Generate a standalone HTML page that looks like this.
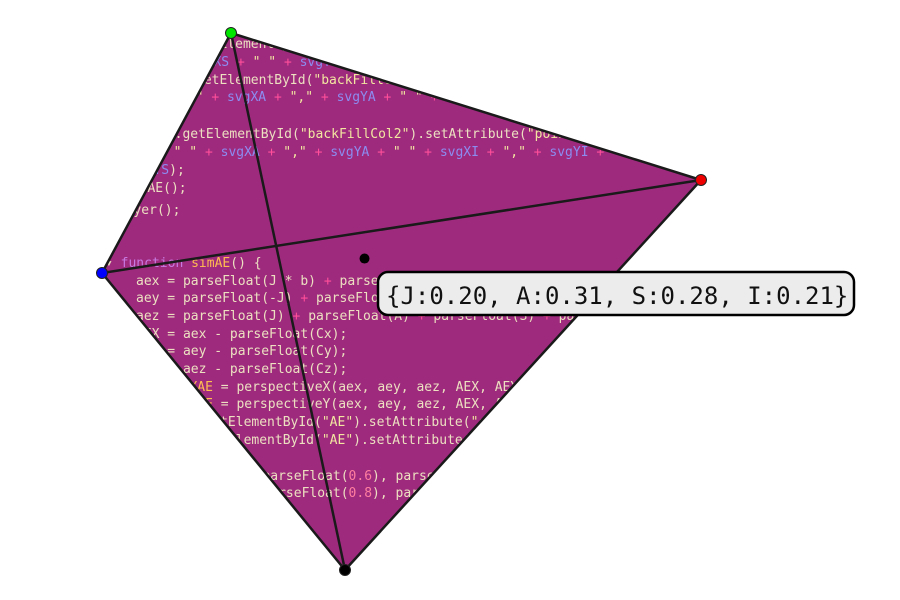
<!DOCTYPE html>
<html><head><meta charset="utf-8"><style>
html,body{margin:0;padding:0;background:#fff;width:900px;height:600px;overflow:hidden}
svg{display:block}
.c{font-family:"DejaVu Sans Mono","Liberation Mono",monospace;font-size:13px;fill:#ece0c0}
.p{fill:#ff4f9a}.v{fill:#8c8cf0}.s{fill:#f2e6a0}.k{fill:#c77ae0}.f{fill:#ffbe50}.n{fill:#ff7f9f}
</style></head><body>
<svg id="chart" width="900" height="600">
<defs><clipPath id="hull"><polygon id="hullPoly"/></clipPath></defs>
<polygon id="fill" fill="#9e2a7e"/>
<g clip-path="url(#hull)">
<text class="c" x="196" y="48">getElementById</text>
<text class="c" x="190" y="66"><tspan class="v">svgXS</tspan> <tspan class="p">+</tspan> <tspan class="s">" "</tspan> <tspan class="p">+</tspan> <tspan class="v">svgYS</tspan>);</text>
<text class="c" x="196" y="84">getElementById(<tspan class="s">"backFillCol1"</tspan>)</text>
<text class="c" x="180" y="101"><tspan class="s">" "</tspan> <tspan class="p">+</tspan> <tspan class="v">svgXA</tspan> <tspan class="p">+</tspan> <tspan class="s">","</tspan> <tspan class="p">+</tspan> <tspan class="v">svgYA</tspan> <tspan class="p">+</tspan> <tspan class="s">" "</tspan> <tspan class="p">+</tspan> <tspan class="v">svgXI</tspan></text>
<text class="c" x="112" y="138">document.getElementById(<tspan class="s">"backFillCol2"</tspan>).setAttribute(<tspan class="s">"points"</tspan></text>
<text class="c" x="158" y="156"><tspan class="p">+</tspan> <tspan class="s">" "</tspan> <tspan class="p">+</tspan> <tspan class="v">svgXA</tspan> <tspan class="p">+</tspan> <tspan class="s">","</tspan> <tspan class="p">+</tspan> <tspan class="v">svgYA</tspan> <tspan class="p">+</tspan> <tspan class="s">" "</tspan> <tspan class="p">+</tspan> <tspan class="v">svgXI</tspan> <tspan class="p">+</tspan> <tspan class="s">","</tspan> <tspan class="p">+</tspan> <tspan class="v">svgYI</tspan> <tspan class="p">+</tspan></text>
<text class="c" x="130" y="174"><tspan class="v">svgYS</tspan>);</text>
<text class="c" x="124" y="192">simAE();</text>
<text class="c" x="110" y="214">player();</text>
<text class="c" x="105" y="267">▾ <tspan class="k">function</tspan> <tspan class="f">simAE</tspan>() {</text>
<text class="c" x="136" y="285">aex = parseFloat(J * b) <tspan class="p">+</tspan> parseFloat(A * b);</text>
<text class="c" x="136" y="302">aey = parseFloat(-J) <tspan class="p">+</tspan> parseFloat(A);</text>
<text class="c" x="136" y="320">aez = parseFloat(J) <tspan class="p">+</tspan> parseFloat(A) <tspan class="p">+</tspan> parseFloat(S) <tspan class="p">+</tspan> parseFloat(I);</text>
<text class="c" x="136" y="338">AEX = aex - parseFloat(Cx);</text>
<text class="c" x="136" y="355">AEY = aey - parseFloat(Cy);</text>
<text class="c" x="136" y="373">AEZ = aez - parseFloat(Cz);</text>
<text class="c" x="166" y="391">svg<tspan class="f">XAE</tspan> = perspectiveX(aex, aey, aez, AEX, AEY, AEZ);</text>
<text class="c" x="166" y="408">svg<tspan class="f">YAE</tspan> = perspectiveY(aex, aey, aez, AEX, AEY, AEZ);</text>
<text class="c" x="134" y="426">document.getElementById(<tspan class="s">"AE"</tspan>).setAttribute(<tspan class="s">"cx"</tspan>);</text>
<text class="c" x="134" y="444">document.getElementById(<tspan class="s">"AE"</tspan>).setAttribute(<tspan class="s">"cy"</tspan>);</text>
<text class="c" x="192" y="480">setColor(parseFloat(<tspan class="n">0.6</tspan>), parseFloat(<tspan class="n">0.7</tspan>));</text>
<text class="c" x="192" y="497">setColor(parseFloat(<tspan class="n">0.8</tspan>), parseFloat(<tspan class="n">0.9</tspan>));</text>
</g>
<g id="edges"></g>
<g id="marks"></g>
<rect x="378" y="272" width="476" height="43" rx="10" fill="#ececec" stroke="#000" stroke-width="2.5"/>
<text id="label" x="386" y="304" font-family="DejaVu Sans Mono,Liberation Mono,monospace" font-size="24" fill="#111"></text>
</svg>
<script>
const names = ["J","A","S","I"];
const weights = [0.20, 0.31, 0.28, 0.21];
const vertexX = [231, 701, 102, 345];
const vertexY = [33, 180, 273, 570];
const vertexColors = ["#00e600", "#ee0000", "#0000ff", "#000000"];
const NS = "http://www.w3.org/2000/svg";
const pt = i => vertexX[i] + "," + vertexY[i];
const hullOrder = [0,1,3,2];
const hullStr = hullOrder.map(pt).join(" ");
document.getElementById("hullPoly").setAttribute("points", hullStr);
document.getElementById("fill").setAttribute("points", hullStr);
const edges = document.getElementById("edges");
const pairs = [[0,1],[1,3],[3,2],[2,0],[0,3],[2,1]];
pairs.forEach(([a,b]) => {
  const l = document.createElementNS(NS, "line");
  l.setAttribute("x1", vertexX[a]); l.setAttribute("y1", vertexY[a]);
  l.setAttribute("x2", vertexX[b]); l.setAttribute("y2", vertexY[b]);
  l.setAttribute("stroke", "#1a1a1a"); l.setAttribute("stroke-width", "2.5");
  
  
  edges.appendChild(l);
});
const marks = document.getElementById("marks");
for (let i = 0; i < 4; i++) {
  const c = document.createElementNS(NS, "circle");
  c.setAttribute("cx", vertexX[i]); c.setAttribute("cy", vertexY[i]); c.setAttribute("r", 5.5);
  c.setAttribute("fill", vertexColors[i]); c.setAttribute("stroke", "#222"); c.setAttribute("stroke-width", "1");
  
  
  marks.appendChild(c);
}
let cx = 0, cy = 0;
for (let i = 0; i < 4; i++) { cx += weights[i] * vertexX[i]; cy += weights[i] * vertexY[i]; }
const d = document.createElementNS(NS, "circle");
d.setAttribute("cx", cx); d.setAttribute("cy", cy); d.setAttribute("r", 5);
d.setAttribute("fill", "#000");


marks.appendChild(d);
document.getElementById("label").textContent =
  "{" + names.map((n, i) => n + ":" + weights[i].toFixed(2)).join(", ") + "}";
</script>
</body></html>
